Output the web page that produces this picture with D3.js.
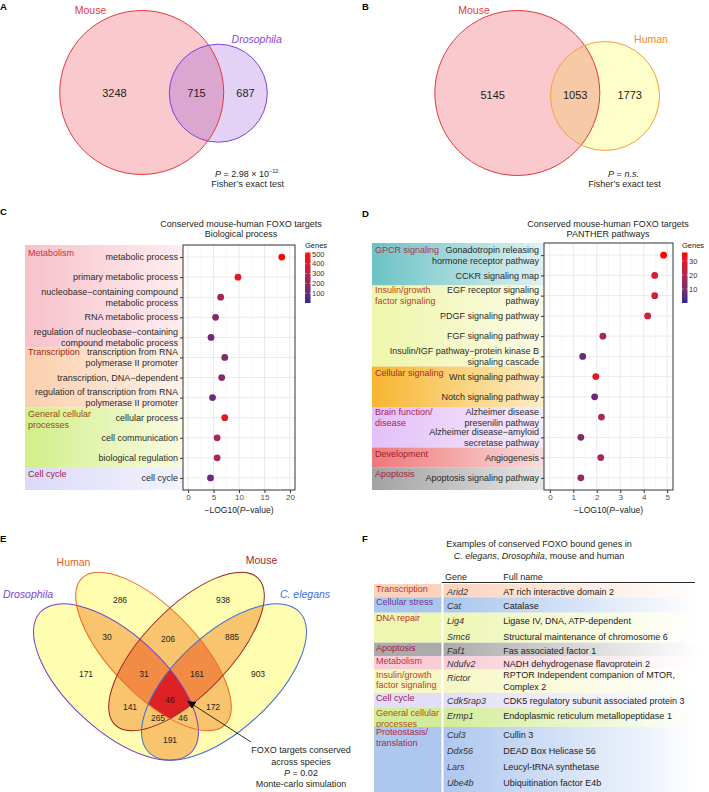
<!DOCTYPE html>
<html><head><meta charset="utf-8">
<script src="https://cdn.jsdelivr.net/npm/d3@7/dist/d3.min.js"></script>
<style>
html,body{margin:0;padding:0;background:#fff;}
svg{display:block;}
text{font-family:"Liberation Sans",Arial,Helvetica,sans-serif;}
</style></head><body>
<svg id="fig" width="709" height="792"></svg>
<script>
// ===================== DATA =====================
// Panel A
const vennA_sets = ["Mouse", "Drosophila"];
const vennA_counts = [3248, 715, 687];
const vennA_stat = ["2.98 × 10", "−12"];
// Panel B
const vennB_sets = ["Mouse", "Human"];
const vennB_counts = [5145, 1053, 1773];
const vennB_stat = "n.s.";
const statTest = "Fisher’s exact test";

// Panel C
const goTitle = ["Conserved mouse-human FOXO targets", "Biological process"];
const goTerms = ["metabolic process", "primary metabolic process",
  "nucleobase−containing compound|metabolic process", "RNA metabolic process",
  "regulation of nucleobase−containing|compound metabolic process",
  "transcription from RNA|polymerase II promoter", "transcription, DNA−dependent",
  "regulation of transcription from RNA|polymerase II promoter",
  "cellular process", "cell communication", "biological regulation", "cell cycle"];
const goLogP = [18.4, 9.8, 6.4, 5.4, 4.5, 7.2, 6.6, 4.8, 7.2, 5.7, 5.7, 4.4];
const goGenes = [515, 430, 230, 170, 110, 160, 170, 100, 440, 270, 280, 100];
const goCategories = ["Metabolism", "Transcription", "General cellular|processes", "Cell cycle"];
const goCategoryRows = [[0, 4], [5, 7], [8, 10], [11, 11]];
const goTicks = [0, 5, 10, 15, 20];
const goLegendTicks = [100, 200, 300, 400, 500];

// Panel D
const ptTitle = ["Conserved mouse-human FOXO targets", "PANTHER pathways"];
const ptTerms = ["Gonadotropin releasing|hormone receptor pathway", "CCKR signaling map",
  "EGF receptor signaling|pathway", "PDGF signaling pathway", "FGF signaling pathway",
  "Insulin/IGF pathway−protein kinase B|signaling cascade", "Wnt signaling pathway",
  "Notch signaling pathway", "Alzheimer disease|presenilin pathway",
  "Alzheimer disease−amyloid|secretase pathway", "Angiogenesis", "Apoptosis signaling pathway"];
const ptLogP = [4.85, 4.47, 4.47, 4.17, 2.26, 1.4, 1.96, 1.91, 2.2, 1.32, 2.17, 1.32];
const ptGenes = [36, 27, 26, 25, 18, 7, 32, 7, 19, 11, 18, 14];
const ptCategories = ["GPCR signaling", "Insulin/growth|factor signaling", "Cellular signaling",
  "Brain function/|disease", "Development", "Apoptosis"];
const ptCategoryRows = [[0, 1], [2, 5], [6, 7], [8, 9], [10, 10], [11, 11]];
const ptTicks = [0, 1, 2, 3, 4, 5];
const ptLegendTicks = [10, 20, 30];
const axisTitleParts = [["−LOG10(", ""], ["P", "i"], ["−value)", ""]];

// Panel E
const vennE_sets = ["Drosophila", "Human", "Mouse", "C. elegans"];
const vennE_regions = ["D", "H", "M", "C", "DH", "HM", "MC", "DHM", "HMC", "DHMC", "DM", "HC", "DMC", "DHC", "DC"];
const vennE_counts = [171, 286, 938, 903, 30, 206, 885, 31, 161, 46, 141, 172, 265, 46, 191];
const vennE_note = ["FOXO targets conserved", "across species", "P = 0.02", "Monte-carlo simulation"];

// Panel F
const tableTitle = ["Examples of conserved FOXO bound genes in", "C. elegans, Drosophila, mouse and human"];
const tableHeader = ["Gene", "Full name"];
const tableCats = ["Transcription", "Cellular stress", "DNA repair", "Apoptosis", "Metabolism",
  "Insulin/growth|factor signaling", "Cell cycle", "General cellular|processes", "Proteostasis/|translation"];
const tableGenes = [["Arid2"], ["Cat"], ["Lig4", "Smc6"], ["Faf1"], ["Ndufv2"], ["Rictor"],
  ["Cdk5rap3"], ["Ermp1"], ["Cul3", "Ddx56", "Lars", "Ube4b"]];
const tableNames = [["AT rich interactive domain 2"], ["Catalase"],
  ["Ligase IV, DNA, ATP-dependent", "Structural maintenance of chromosome 6"],
  ["Fas associated factor 1"], ["NADH dehydrogenase flavoprotein 2"],
  ["RPTOR Independent companion of MTOR,|Complex 2"],
  ["CDK5 regulatory subunit associated protein 3"],
  ["Endoplasmic reticulum metallopeptidase 1"],
  ["Cullin 3", "DEAD Box Helicase 56", "Leucyl-tRNA synthetase", "Ubiquitination factor E4b"]];

// ===================== DRAWING =====================
const svg = d3.select("#fig");
const defs = svg.append("defs");
const INK = "#231f20";
let gid = 0;
function hGrad(c0, c1, x1 = 1) {
  const id = "gr" + (gid++);
  const lg = defs.append("linearGradient").attr("id", id)
    .attr("x1", 0).attr("x2", x1).attr("y1", 0).attr("y2", 0);
  lg.append("stop").attr("offset", 0).attr("stop-color", c0);
  lg.append("stop").attr("offset", 1).attr("stop-color", c1);
  return `url(#${id})`;
}
function T(g, x, y, str, size, opt = {}) {
  const t = g.append("text").attr("x", x).attr("y", y).attr("font-size", size)
    .attr("fill", opt.fill || INK).attr("text-anchor", opt.anchor || "start");
  if (opt.weight) t.attr("font-weight", opt.weight);
  if (opt.italic) t.attr("font-style", "italic");
  t.text(str);
  return t;
}
function R(g, x, y, parts, size, opt = {}) {
  const t = g.append("text").attr("x", x).attr("y", y).attr("font-size", size)
    .attr("fill", opt.fill || INK).attr("text-anchor", opt.anchor || "start");
  let raised = false;
  parts.forEach(([s, st]) => {
    const sp = t.append("tspan").text(s);
    if (st === "i") sp.attr("font-style", "italic");
    if (st === "sup") { sp.attr("font-size", size * 0.62).attr("dy", -size * 0.42); raised = true; }
    else if (raised) { sp.attr("dy", size * 0.42); raised = false; }
  });
  return t;
}

// ---------- panel letters ----------
[["A", 0, 10], ["B", 362, 10], ["C", 0, 215], ["D", 362, 216.5], ["E", 0, 542], ["F", 362, 542]]
  .forEach(([s, x, y]) => T(svg, x, y, s, 9.5, { weight: "bold", fill: "#000" }));

// ---------- two-set Venns ----------
function venn2(o) {
  const g = svg.append("g");
  const cid = "clip" + (gid++);
  defs.append("clipPath").attr("id", cid).append("circle")
    .attr("cx", o.c2[0]).attr("cy", o.c2[1]).attr("r", o.c2[2]);
  g.append("circle").attr("cx", o.c1[0]).attr("cy", o.c1[1]).attr("r", o.c1[2]).attr("fill", o.fill1);
  g.append("circle").attr("cx", o.c2[0]).attr("cy", o.c2[1]).attr("r", o.c2[2]).attr("fill", o.fill2);
  g.append("circle").attr("cx", o.c1[0]).attr("cy", o.c1[1]).attr("r", o.c1[2])
    .attr("fill", o.fill12).attr("clip-path", `url(#${cid})`);
  g.append("circle").attr("cx", o.c1[0]).attr("cy", o.c1[1]).attr("r", o.c1[2])
    .attr("fill", "none").attr("stroke", o.stroke1).attr("stroke-width", 1);
  g.append("circle").attr("cx", o.c2[0]).attr("cy", o.c2[1]).attr("r", o.c2[2])
    .attr("fill", "none").attr("stroke", o.stroke2).attr("stroke-width", 1);
  const l1 = o.c1[0] - o.c1[2], r1 = o.c1[0] + o.c1[2], l2 = o.c2[0] - o.c2[2], r2 = o.c2[0] + o.c2[2];
  const xs = [(l1 + l2) / 2, (l2 + r1) / 2, (r1 + r2) / 2];
  const ny = (o.c1[1] + o.c2[1]) / 2 + 4;
  o.counts.forEach((c, i) => T(g, xs[i], ny, d3.format("d")(c), 11, { anchor: "middle" }));
  T(g, o.lab1[0], o.lab1[1], o.sets[0], 10.5, { anchor: "middle", fill: o.stroke1 });
  T(g, o.lab2[0], o.lab2[1], o.sets[1], 10.5, { anchor: "middle", fill: o.lab2c, italic: o.italic2 });
  R(g, o.statX, 176.5, o.statParts, 9, { anchor: "middle" });
  T(g, o.statX + 1, 187, statTest, 9, { anchor: "middle" });
}
venn2({
  sets: vennA_sets, counts: vennA_counts,
  c1: [141.7, 92.5, 82], c2: [218.3, 93.2, 49],
  fill1: "#f9c9cd", fill2: "#e3d1f6", fill12: "#dba6cf",
  stroke1: "#e23a40", stroke2: "#7c45d6",
  lab1: [90.5, 14], lab2: [256.7, 43], lab2c: "#8a44d6", italic2: true,
  statX: 246.7, statParts: [["P", "i"], [" = " + vennA_stat[0], ""], [vennA_stat[1], "sup"]]
});
venn2({
  sets: vennB_sets, counts: vennB_counts,
  c1: [517.3, 93, 82.5], c2: [605, 96, 54.5],
  fill1: "#f9c9cd", fill2: "#fefec9", fill12: "#f8c9a6",
  stroke1: "#e23a40", stroke2: "#f5a13a",
  lab1: [474, 14], lab2: [651, 42.5], lab2c: "#f08a26", italic2: false,
  statX: 623.5, statParts: [["P", "i"], [" = ", ""], [vennB_stat, "i"]]
});

// ---------- dot plots ----------
function dotPlot(o) {
  const g = svg.append("g");
  const n = o.terms.length;
  const x = d3.scaleLinear().domain(o.xDomain).range([o.x0, o.x1]);
  const y = d3.scalePoint().domain(d3.range(n)).range([o.y0, o.y1]).padding(0.6);
  const col = d3.scaleLinear().domain(o.colorDomain).range(["#2b2b8e", "#ff0000"]).interpolate(d3.interpolateLab);
  // category bands
  o.catRows.forEach(([a, b], i) => {
    const top = a === 0 ? o.y0 : (y(a - 1) + y(a)) / 2;
    const bot = b === n - 1 ? o.y1 : (y(b) + y(b + 1)) / 2;
    g.append("rect").attr("x", o.bandX).attr("y", top).attr("width", o.x0 - o.bandX)
      .attr("height", bot - top).attr("fill", hGrad(o.bandColors[i][0], o.bandColors[i][1]));
    const lines = o.cats[i].split("|");
    const twoLine = o.terms[a].split("|").length > 1;
    const ly = twoLine ? y(a) - 5.5 : y(a) - 4;
    lines.forEach((s, k) => T(g, o.bandX + 3, ly + k * 11 + 3.2, s, 9, { fill: o.catColors[i] }));
  });
  // panel background & grid
  g.append("rect").attr("x", o.x0).attr("y", o.y0).attr("width", o.x1 - o.x0).attr("height", o.y1 - o.y0).attr("fill", "#fff");
  const step = o.ticks[1] - o.ticks[0];
  const minor = [];
  for (let v = o.ticks[0] - step / 2; v <= o.ticks[o.ticks.length - 1] + step / 2 + 1e-9; v += step)
    if (x(v) > o.x0 && x(v) < o.x1) minor.push(v);
  g.selectAll(null).data(minor).join("line")
    .attr("x1", d => x(d)).attr("x2", d => x(d)).attr("y1", o.y0).attr("y2", o.y1)
    .attr("stroke", "#f3f3f3").attr("stroke-width", 0.6);
  g.selectAll(null).data(o.ticks).join("line")
    .attr("x1", d => x(d)).attr("x2", d => x(d)).attr("y1", o.y0).attr("y2", o.y1)
    .attr("stroke", "#e4e4e4").attr("stroke-width", 0.8);
  g.selectAll(null).data(d3.range(n)).join("line")
    .attr("x1", o.x0).attr("x2", o.x1).attr("y1", d => y(d)).attr("y2", d => y(d))
    .attr("stroke", "#e4e4e4").attr("stroke-width", 0.8);
  // axes
  const ax = g.append("g").attr("transform", `translate(0,${o.y1})`)
    .call(d3.axisBottom(x).tickValues(o.ticks).tickSize(3).tickPadding(1.5).tickFormat(d3.format("d")));
  ax.select(".domain").remove();
  ax.selectAll("line").attr("stroke", "#333");
  ax.selectAll("text").attr("font-size", 8).attr("fill", "#4d4d4d").attr("font-family", null);
  const ay = g.append("g").attr("transform", `translate(${o.x0},0)`)
    .call(d3.axisLeft(y).tickSize(3).tickFormat(""));
  ay.select(".domain").remove();
  ay.selectAll("line").attr("stroke", "#333");
  // row labels
  o.terms.forEach((t, i) => {
    const lines = t.split("|");
    const off = (lines.length - 1) * 5.5;
    lines.forEach((s, k) => T(g, o.x0 - 5, y(i) - off + k * 11 + 3.2, s, 9, { anchor: "end", fill: "#2a2a2a" }));
  });
  // points
  g.selectAll(null).data(o.vals).join("circle")
    .attr("cx", d => x(d)).attr("cy", (d, i) => y(i)).attr("r", 3.4)
    .attr("fill", (d, i) => col(o.genes[i]));
  // border
  g.append("rect").attr("x", o.x0).attr("y", o.y0).attr("width", o.x1 - o.x0).attr("height", o.y1 - o.y0)
    .attr("fill", "none").attr("stroke", "#333").attr("stroke-width", 1);
  // titles
  T(g, o.titleX, 226.5, o.title[0], 9, { anchor: "middle" });
  T(g, o.titleX, 237, o.title[1], 9, { anchor: "middle" });
  R(g, (o.x0 + o.x1) / 2, 513, axisTitleParts, 8.5, { anchor: "middle", fill: "#222" });
  // legend
  const ly = d3.scaleLinear().domain(o.colorDomain).range([o.legY1, o.legY0]);
  const lgid = "lg" + (gid++);
  const lg = defs.append("linearGradient").attr("id", lgid).attr("x1", 0).attr("x2", 0).attr("y1", 1).attr("y2", 0);
  d3.range(0, 1.0001, 0.1).forEach(t => lg.append("stop").attr("offset", t)
    .attr("stop-color", col(o.colorDomain[0] + t * (o.colorDomain[1] - o.colorDomain[0]))));
  T(g, o.legX, 248, "Genes", 7.5, { fill: "#222" });
  g.append("rect").attr("x", o.legX).attr("y", o.legY0).attr("width", 5.5).attr("height", o.legY1 - o.legY0)
    .attr("fill", `url(#${lgid})`);
  o.legTicks.forEach(t => {
    g.append("line").attr("x1", o.legX).attr("x2", o.legX + 1.3).attr("y1", ly(t)).attr("y2", ly(t)).attr("stroke", "#fff").attr("stroke-width", 0.6);
    g.append("line").attr("x1", o.legX + 4.2).attr("x2", o.legX + 5.5).attr("y1", ly(t)).attr("y2", ly(t)).attr("stroke", "#fff").attr("stroke-width", 0.6);
    T(g, o.legX + 7, ly(t) + 2.7, d3.format("d")(t), 7.5, { fill: "#333" });
  });
}
dotPlot({
  terms: goTerms, vals: goLogP, genes: goGenes, cats: goCategories, catRows: goCategoryRows,
  ticks: goTicks, legTicks: goLegendTicks, title: goTitle, titleX: 241,
  x0: 183, x1: 295, y0: 245, y1: 490, xDomain: [-1, 21], bandX: 25,
  colorDomain: [0, 515], legX: 305, legY0: 252.5, legY1: 303,
  bandColors: [["#f8c1ca", "#fdeef1"], ["#fbcfad", "#fef3ea"], ["#d0ef88", "#fafbe2"], ["#dadaf9", "#f3f3fd"]],
  catColors: ["#cc2f3a", "#a82222", "#a0480f", "#a0204a"]
});
dotPlot({
  terms: ptTerms, vals: ptLogP, genes: ptGenes, cats: ptCategories, catRows: ptCategoryRows,
  ticks: ptTicks, legTicks: ptLegendTicks, title: ptTitle, titleX: 608,
  x0: 544, x1: 673, y0: 243, y1: 490, xDomain: [-0.25, 5.25], bandX: 372,
  colorDomain: [0, 36], legX: 682, legY0: 252.5, legY1: 303,
  bandColors: [["#6cc2c5", "#dff1f2"], ["#eef6aa", "#fbfbe6"], ["#f6b530", "#fdeec6"],
    ["#e3c0f7", "#f6ebfd"], ["#ee7878", "#fadcdc"], ["#a2a2a2", "#e6e6e6"]],
  catColors: ["#b0304a", "#b84020", "#a83020", "#b02058", "#a02030", "#a02040"]
});

// ---------- four-set Venn (panel E) ----------
(function () {
  const g = svg.append("g");
  const ax = 170;
  const ell = {
    D: { cx: ax - 54, cy: 682, rx: 103, ry: 48, rot: 42.6 },
    H: { cx: ax - 16.5, cy: 651.5, rx: 102.5, ry: 43, rot: 45.8 },
    M: { cx: ax + 16.5, cy: 651.5, rx: 102.5, ry: 43, rot: -45.8 },
    C: { cx: ax + 54, cy: 682, rx: 103, ry: 48, rot: -42.6 }
  };
  const keys = ["D", "H", "M", "C"];
  const strokes = { D: "#7a3fca", H: "#f26522", M: "#9e1f24", C: "#3a6fd8" };
  const labelFill = { D: "#7b3fd0", H: "#f05a28", M: "#a3262a", C: "#3b6fe0" };
  const labelPos = { D: [28, 597.5], H: [73.5, 565.5], M: [261.5, 563.5], C: [305, 597.5] };
  const regionPos = {
    D: [86, 674], H: [120, 600], M: [223, 600], C: [258, 674], DH: [107, 637], HM: [168, 639],
    MC: [232, 637], DHM: [144, 674], HMC: [197, 674], DHMC: [170, 700], DM: [130, 707],
    HC: [213, 707], DMC: [158, 718], DHC: [183, 718], DC: [170, 740]
  };
  function el(parent, k) {
    const e = ell[k];
    return parent.append("ellipse").attr("cx", e.cx).attr("cy", e.cy).attr("rx", e.rx).attr("ry", e.ry)
      .attr("transform", `rotate(${e.rot},${e.cx},${e.cy})`);
  }
  keys.forEach(k => el(defs.append("clipPath").attr("id", "cE" + k), k));
  function paint(ks, color) {
    let p = g;
    ks.slice(1).forEach(k => { p = p.append("g").attr("clip-path", `url(#cE${k})`); });
    el(p, ks[0]).attr("fill", color);
  }
  keys.forEach(k => paint([k], "#fefdb0"));
  [["D", "H"], ["D", "M"], ["D", "C"], ["H", "M"], ["H", "C"], ["M", "C"]].forEach(p => paint(p, "#f8c46e"));
  paint(["D", "H", "M"], "#f28b43");
  paint(["H", "M", "C"], "#f28b43");
  paint(["D", "H", "M", "C"], "#de2224");
  keys.forEach(k => el(g, k).attr("fill", "none").attr("stroke", strokes[k]).attr("stroke-width", 1));
  vennE_regions.forEach((r, i) => T(g, regionPos[r][0], regionPos[r][1] + 3, d3.format("d")(vennE_counts[i]), 8.5, { anchor: "middle" }));
  vennE_sets.forEach((s, i) => {
    const k = keys[i];
    T(g, labelPos[k][0], labelPos[k][1], s, 10.5, { anchor: "middle", fill: labelFill[k], italic: (k === "D" || k === "C") });
  });
  // arrow
  defs.append("marker").attr("id", "arrE").attr("viewBox", "0 0 10 10").attr("refX", 9).attr("refY", 5)
    .attr("markerWidth", 9).attr("markerHeight", 8).attr("markerUnits", "userSpaceOnUse").attr("orient", "auto")
    .append("path").attr("d", "M0,0L10,5L0,10z").attr("fill", "#000");
  g.append("line").attr("x1", 251).attr("y1", 742).attr("x2", 188).attr("y2", 701.5)
    .attr("stroke", "#000").attr("stroke-width", 0.8).attr("marker-end", "url(#arrE)");
  T(g, 301, 753, vennE_note[0], 9, { anchor: "middle" });
  T(g, 301, 764.5, vennE_note[1], 9, { anchor: "middle" });
  const pv = vennE_note[2];
  R(g, 301, 775.5, [[pv.slice(0, 1), "i"], [pv.slice(1), ""]], 9, { anchor: "middle" });
  T(g, 301, 786.5, vennE_note[3], 9, { anchor: "middle" });
})();

// ---------- table (panel F) ----------
(function () {
  const g = svg.append("g");
  T(g, 539, 547, tableTitle[0], 9, { anchor: "middle" });
  const t2 = tableTitle[1];
  const parts = [[t2.slice(0, 10), "i"], [", ", ""], ["Drosophila", "i"], [t2.slice(t2.indexOf(", mouse")), ""]];
  R(g, 539, 559, parts, 9, { anchor: "middle" });
  const labX0 = 374, labX1 = 441.5, geneX0 = 443.5, fadeX1 = 700;
  const geneX = 447, nameX = 503.3;
  T(g, geneX - 2, 580, tableHeader[0], 9);
  T(g, nameX, 580, tableHeader[1], 9);
  g.append("line").attr("x1", 442).attr("x2", 695).attr("y1", 582.5).attr("y2", 582.5).attr("stroke", "#111").attr("stroke-width", 0.9);
  const bandH = [13.3, 15.4, 30, 13.3, 13.7, 23.3, 15, 19, 65];
  const bandC = ["#fbd3bd", "#a9c6ee", "#eef6b2", "#ababab", "#f9cdd6", "#f6f7c4", "#e2def8", "#d4ec9a", "#aec7ef"];
  const catCol = ["#c03326", "#6a3a96", "#c0301f", "#a02040", "#c22a40", "#b8441c", "#9a2256", "#a8520e", "#a8283c"];
  let top = 584;
  tableCats.forEach((c, i) => {
    const h = bandH[i];
    g.append("rect").attr("x", labX0).attr("y", top).attr("width", labX1 - labX0).attr("height", h).attr("fill", bandC[i]);
    g.append("rect").attr("x", geneX0).attr("y", top).attr("width", fadeX1 - geneX0).attr("height", h)
      .attr("fill", hGrad(bandC[i], "#ffffff"));
    c.split("|").forEach((s, k) => T(g, labX0 + 2, top + 4.8 + k * 10.5 + 3.2, s, 9, { fill: catCol[i] }));
    tableGenes[i].forEach((gn, j) => {
      const cy = top + 8 + j * 16;
      T(g, geneX, cy + 3.2, gn, 9, { italic: true, fill: "#333" });
      const nl = tableNames[i][j].split("|");
      if (nl.length > 1) {
        nl.forEach((s, k) => T(g, nameX, top + 5.5 + k * 11.5 + 3.2, s, 9, { fill: "#222" }));
      } else {
        T(g, nameX, cy + 3.2, nl[0], 9, { fill: "#222" });
      }
    });
    top += h;
  });
})();
</script>
</body></html>
